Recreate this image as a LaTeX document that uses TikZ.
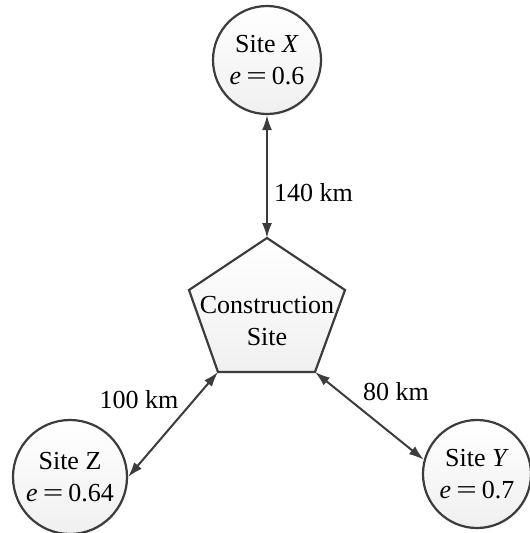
\documentclass[tikz,border=0pt]{standalone}
\usepackage{fontspec}
\setmainfont{Liberation Serif}
\usetikzlibrary{arrows.meta,shadows}
\definecolor{ln}{HTML}{3c3c3c}
\newcommand{\myeq}{\hspace{0.2em}\scalebox{1.4}[1]{=}\hspace{0.2em}}
\tikzset{
  site/.style={circle, draw=ln, line width=2.2pt, minimum size=108pt, inner sep=0pt,
    top color=white, bottom color=gray!12, align=center, font=\fontsize{26}{32}\selectfont,
    drop shadow={opacity=0.10, shadow xshift=1.5pt, shadow yshift=-1.5pt}},
  pent/.style={draw=ln, line width=2.2pt, line join=miter, top color=white, bottom color=gray!12},
  conn/.style={draw=ln, line width=2pt, {Latex[length=15pt,width=10pt]}-{Latex[length=15pt,width=10pt]}},
  lbl/.style={font=\fontsize{26}{32}\selectfont, inner sep=0pt, align=center},
}
\begin{document}
\begin{tikzpicture}[x=1pt,y=-1pt]
\useasboundingbox (0,0) rectangle (530,533);
% pentagon
\coordinate (ptop) at (267,238);
\coordinate (pur) at (345,290);
\coordinate (pbr) at (315,372);
\coordinate (pbl) at (218,372);
\coordinate (pul) at (189,290);
\path[pent] (ptop) -- (pur) -- (pbr) -- (pbl) -- (pul) -- cycle;
\node[lbl] (cs) at (267,321) {Construction\\Site};
% sites
\node[site] (X) at (267,60) {Site \textit{X}\\\textit{e}\myeq0.6};
\node[site, minimum size=114pt] (Z) at (70,477) {Site Z\\\textit{e}\myeq0.64};
\node[site] (Y) at (477,474) {Site \textit{Y}\\\textit{e}\myeq0.7};
% connectors
\draw[conn] (X.south) -- (ptop);
\draw[conn] (pbl) -- (Z.east);
\draw[conn] (pbr) -- (Y.165);
% labels
\node[lbl, anchor=west] (l140) at (274,193) {140 km};
\node[lbl] (l100) at (139,400) {100 km};
\node[lbl] (l80) at (396,392) {80 km};
\end{tikzpicture}
\end{document}
